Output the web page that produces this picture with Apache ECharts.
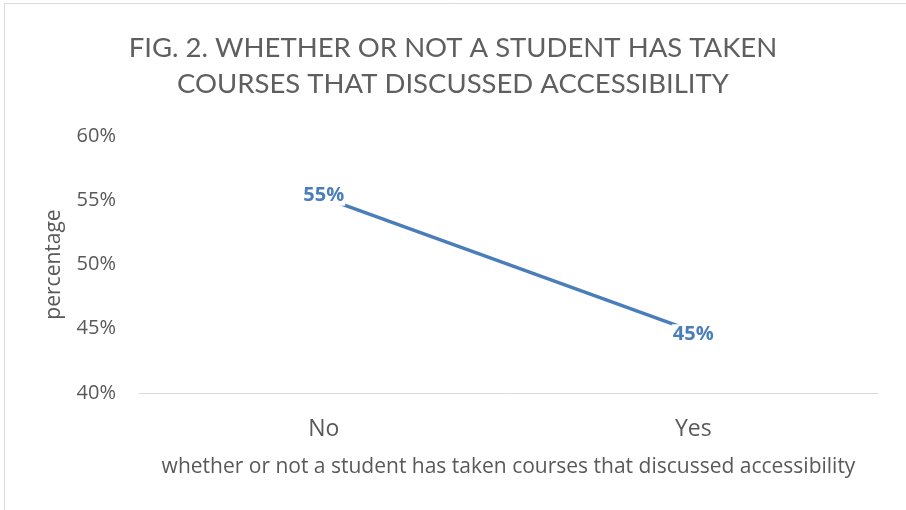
<!DOCTYPE html>
<html>
<head>
<meta charset="utf-8">
<script src="https://cdn.jsdelivr.net/npm/echarts@6/dist/echarts.min.js"></script>
<style>
html,body{margin:0;padding:0;background:#fff;}
#chart{width:906px;height:510px;}
</style>
</head>
<body>
<div id="chart"></div>
<script>
var titleText = 'FIG. 2. WHETHER OR NOT A STUDENT HAS TAKEN\nCOURSES THAT DISCUSSED ACCESSIBILITY';
var categories = ['No', 'Yes'];
var percentValues = [55.2, 44.8];
var yTicks = [40, 45, 50, 55, 60];
var xAxisName = 'whether or not a student has taken courses that discussed accessibility';
var yAxisName = 'percentage';

var TFONT = 'Lato, "Liberation Sans", sans-serif';
var FONT = '"Open Sans", "Noto Sans", sans-serif';
var labelOffsets = [[0, -2], [0, 3]];
var chart = echarts.init(document.getElementById('chart'), null, {renderer: 'canvas'});
chart.setOption({
  animation: false,
  backgroundColor: '#fff',
  graphic: [{
    type: 'rect',
    shape: {x: 4.5, y: 3.5, width: 1000, height: 1000},
    style: {fill: 'none', stroke: '#d9d9d9', lineWidth: 1},
    silent: true
  }],
  title: {
    text: titleText,
    left: 'center',
    top: 25,
    textStyle: {fontFamily: TFONT, fontWeight: 400, fontSize: 27.5, color: '#5f5f5f', lineHeight: 36}
  },
  grid: {left: 139, right: 28, top: 136, bottom: 117},
  xAxis: {
    type: 'category',
    data: categories,
    boundaryGap: true,
    axisLine: {lineStyle: {color: '#d9d9d9', width: 1}},
    axisTick: {show: false},
    axisLabel: {fontFamily: FONT, fontSize: 23, color: '#595959', margin: 25},
    name: xAxisName,
    nameLocation: 'middle',
    nameGap: 64,
    nameTextStyle: {fontFamily: FONT, fontSize: 21, color: '#595959'}
  },
  yAxis: {
    type: 'value',
    min: yTicks[0],
    max: yTicks[yTicks.length - 1],
    interval: 5,
    splitLine: {show: false},
    axisLine: {show: false},
    axisTick: {show: false},
    axisLabel: {fontFamily: FONT, fontSize: 20, color: '#595959', margin: 23, formatter: function(v){return v + '%';}},
    name: yAxisName,
    nameLocation: 'middle',
    nameGap: 74,
    nameRotate: 90,
    nameTextStyle: {fontFamily: FONT, fontSize: 21, color: '#595959'}
  },
  series: [{
    type: 'line',
    data: percentValues.map(function(v, i){ return {value: v, label: {offset: labelOffsets[i]}}; }),
    symbol: 'circle',
    symbolSize: 1,
    showSymbol: true,
    itemStyle: {color: 'rgba(0,0,0,0)'},
    lineStyle: {color: '#4a7ebb', width: 3.5},
    label: {
      show: true,
      position: 'inside',
      formatter: function(p){return Math.round(p.value) + '%';},
      fontFamily: FONT,
      fontSize: 20,
      fontWeight: 'bold',
      color: '#4a7ebb',
      backgroundColor: '#fff',
      padding: [0, 1]
    }
  }]
});
</script>
</body>
</html>
